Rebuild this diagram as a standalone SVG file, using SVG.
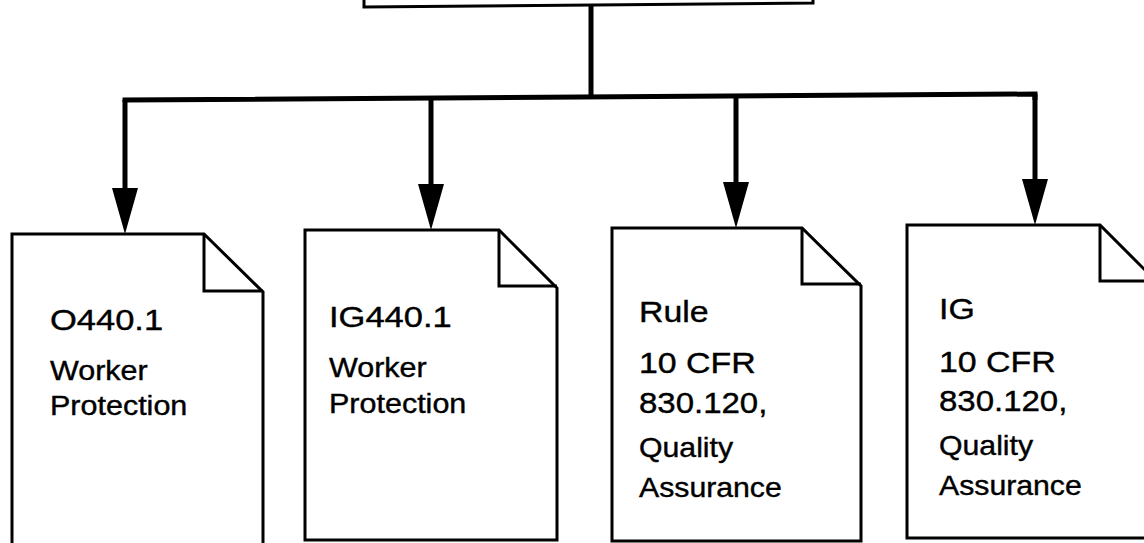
<svg xmlns="http://www.w3.org/2000/svg" width="1144" height="543" viewBox="0 0 1144 543">
<style>
.doc{fill:#fff;stroke:#000;stroke-width:3;stroke-linejoin:miter}
.fold{fill:none;stroke:#000;stroke-width:3}
.conn{fill:none;stroke:#000;stroke-width:5;stroke-linecap:butt}
.head{fill:#000;stroke:none}
.box{fill:#fff;stroke:#000;stroke-width:3}
text{font-family:"Liberation Sans",Arial,sans-serif;fill:#000;stroke:#000;stroke-width:0.4}
.h{font-size:30px}
.b{font-size:28px}
</style>
<rect width="1144" height="543" fill="#fff"/>
<g id="top-node">
<path class="box" d="M364,-20 V7 L813,3 V-20"/>
</g>
<g id="connectors">
<path class="conn" d="M591,4 V97"/>
<path class="conn" d="M125,102 V100 L1035,94 V100"/>
<path class="conn" d="M125,100 V190"/>
<path class="conn" d="M431,98 V186"/>
<path class="conn" d="M736,96 V184"/>
<path class="conn" d="M1035,94 V181"/>
<polygon class="head" points="112,188 138,188 125,234"/>
<polygon class="head" points="418,184 444,184 431,230"/>
<polygon class="head" points="723,182 749,182 736,228"/>
<polygon class="head" points="1022,179 1048,179 1035,225"/>
</g>
<g id="doc1">
<path class="doc" d="M12,550 V234 H204 L263,292 V550"/>
<path class="fold" d="M204,234 V291 H263"/>
<text class="h" transform="translate(50,330) scale(1.15,1)">O440.1</text>
<text class="b" transform="translate(50,380) scale(1.09,1)">Worker</text>
<text class="b" transform="translate(50,415) scale(1.09,1)">Protection</text>
</g>
<g id="doc2">
<path class="doc" d="M305,540 V230 H499 L557,288 V540 Z"/>
<path class="fold" d="M499,230 V286 H557"/>
<text class="h" transform="translate(329,327) scale(1.15,1)">IG440.1</text>
<text class="b" transform="translate(329,377) scale(1.09,1)">Worker</text>
<text class="b" transform="translate(329,413) scale(1.09,1)">Protection</text>
</g>
<g id="doc3">
<path class="doc" d="M612,541 V228 H802 L861,286 V541 Z"/>
<path class="fold" d="M802,228 V284 H861"/>
<text class="h" transform="translate(639,322) scale(1.13,1)">Rule</text>
<text class="h" transform="translate(639,373) scale(1.13,1)">10 CFR</text>
<text class="h" transform="translate(639,413) scale(1.1,1)">830.120,</text>
<text class="b" transform="translate(639,457) scale(1.08,1)">Quality</text>
<text class="b" transform="translate(639,497) scale(1.08,1)">Assurance</text>
</g>
<g id="doc4">
<path class="doc" d="M907,538 V225 H1100 L1160,285 V538 Z"/>
<path class="fold" d="M1100,225 V281 H1160"/>
<text class="h" transform="translate(939,319) scale(1.13,1)">IG</text>
<text class="h" transform="translate(939,372) scale(1.13,1)">10 CFR</text>
<text class="h" transform="translate(939,411) scale(1.1,1)">830.120,</text>
<text class="b" transform="translate(939,455) scale(1.08,1)">Quality</text>
<text class="b" transform="translate(939,495) scale(1.08,1)">Assurance</text>
</g>
</svg>
